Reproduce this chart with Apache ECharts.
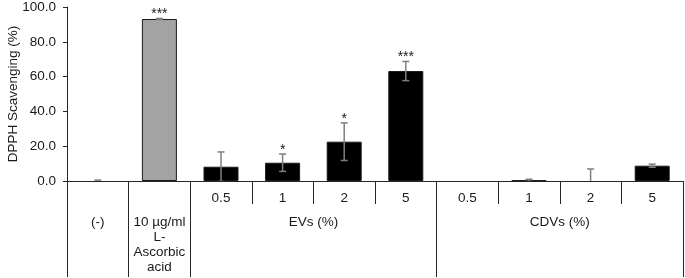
<!DOCTYPE html>
<html>
<head>
<meta charset="utf-8">
<script src="https://cdn.jsdelivr.net/npm/echarts@6/dist/echarts.min.js"></script>
<style>
  html, body { margin: 0; padding: 0; background: #fff; }
  #container { width: 685px; height: 278px; }
</style>
</head>
<body>
<div id="container"></div>
<script>
// categories (one per bar) and their labels
var categories = ['(-)', 'AA', 'EVs 0.5', 'EVs 1', 'EVs 2', 'EVs 5', 'CDVs 0.5', 'CDVs 1', 'CDVs 2', 'CDVs 5'];
var subLabels = ['', '', '0.5', '1', '2', '5', '0.5', '1', '2', '5'];
var groupLabels = ['(-)', '10 µg/ml\nL-\nAscorbic\nacid', 'EVs (%)', 'CDVs (%)'];
var groupCenters = [0.5, 1.5, 4, 8];
var groupBounds = [0, 1, 2, 6, 10];

// DPPH scavenging (%) and SD
var values = [0, 93.1, 8.2, 10.5, 22.6, 63.2, 0, 0.4, 0, 8.8];
var errors = [0.5, 0.3, 8.5, 5.0, 10.8, 5.5, 0, 0.6, 6.9, 0.9];
var stars = ['', '***', '', '*', '*', '***', '', '', '', ''];

var font = 'Liberation Sans, Arial, sans-serif';
var lineColor = '#262626';
var textColor = '#1a1a1a';

var dom = document.getElementById('container');
var myChart = echarts.init(dom, null, { renderer: 'canvas' });

var barData = values.map(function (v, i) {
  return {
    value: v,
    itemStyle: {
      color: i === 1 ? '#a3a3a3' : '#000000',
      borderWidth: v > 0 ? 1 : 0
    }
  };
});

var errData = values.map(function (v, i) {
  return [i, v, errors[i]];
});

var option = {
  animation: false,
  grid: { left: 67, right: 2, top: 7, bottom: 97, containLabel: false, outerBoundsMode: 'none' },
  xAxis: [
    {
      type: 'category',
      data: categories,
      position: 'bottom',
      axisLine: { show: true, lineStyle: { color: lineColor, width: 1 } },
      axisTick: { show: true, length: 23, lineStyle: { color: lineColor } },
      axisLabel: {
        interval: 0,
        margin: 10,
        fontFamily: font,
        fontSize: 13.5,
        color: textColor,
        formatter: function (val, idx) { return subLabels[idx]; }
      },
      splitLine: { show: false }
    },
    {
      type: 'value',
      min: 0,
      max: 10,
      position: 'bottom',
      offset: 0,
      axisLine: { show: false },
      axisTick: {
        show: true,
        length: 96,
        customValues: groupBounds,
        lineStyle: { color: lineColor }
      },
      axisLabel: {
        show: true,
        margin: 34,
        customValues: groupCenters,
        fontFamily: font,
        fontSize: 13.5,
        lineHeight: 15,
        color: textColor,
        formatter: function (val) {
          var k = groupCenters.indexOf(val);
          return k >= 0 ? groupLabels[k] : '';
        }
      },
      splitLine: { show: false }
    }
  ],
  yAxis: {
    type: 'value',
    min: 0,
    max: 100,
    interval: 20,
    name: 'DPPH Scavenging (%)',
    nameLocation: 'middle',
    nameGap: 47,
    nameMoveOverlap: false,
    nameTextStyle: { fontFamily: font, fontSize: 13.5, color: textColor },
    axisLine: { show: true, lineStyle: { color: lineColor } },
    axisTick: { show: true, length: 4, lineStyle: { color: lineColor } },
    axisLabel: {
      margin: 11,
      fontFamily: font,
      fontSize: 13.5,
      color: textColor,
      formatter: function (v) { return v.toFixed(1); }
    },
    splitLine: { show: false }
  },
  series: [
    {
      name: 'DPPH',
      type: 'bar',
      xAxisIndex: 0,
      barWidth: 35,
      itemStyle: { borderColor: '#1a1a1a' },
      data: barData
    },
    {
      name: 'SD',
      type: 'custom',
      xAxisIndex: 0,
      clip: true,
      z: 5,
      renderItem: function (params, api) {
        var i = api.value(0);
        var v = api.value(1);
        var e = api.value(2);
        var s = stars[i];
        var top = api.coord([i, v + e]);
        var bot = api.coord([i, v - e]);
        var cap = 3.5;
        var style = { stroke: '#7f7f7f', lineWidth: 1.5 };
        var children = [];
        if (e > 0) {
          children.push(
            { type: 'line', shape: { x1: top[0], y1: top[1], x2: bot[0], y2: bot[1] }, style: style },
            { type: 'line', shape: { x1: top[0] - cap, y1: top[1], x2: top[0] + cap, y2: top[1] }, style: style },
            { type: 'line', shape: { x1: bot[0] - cap, y1: bot[1], x2: bot[0] + cap, y2: bot[1] }, style: style }
          );
        }
        if (s) {
          children.push({
            type: 'text',
            style: {
              x: top[0],
              y: top[1] + 3,
              text: s,
              fill: textColor,
              font: '14px ' + font,
              align: 'center',
              verticalAlign: 'bottom'
            }
          });
        }
        return { type: 'group', children: children };
      },
      data: errData
    }
  ]
};

if (option && typeof option === 'object') {
  myChart.setOption(option);
}
</script>
</body>
</html>
